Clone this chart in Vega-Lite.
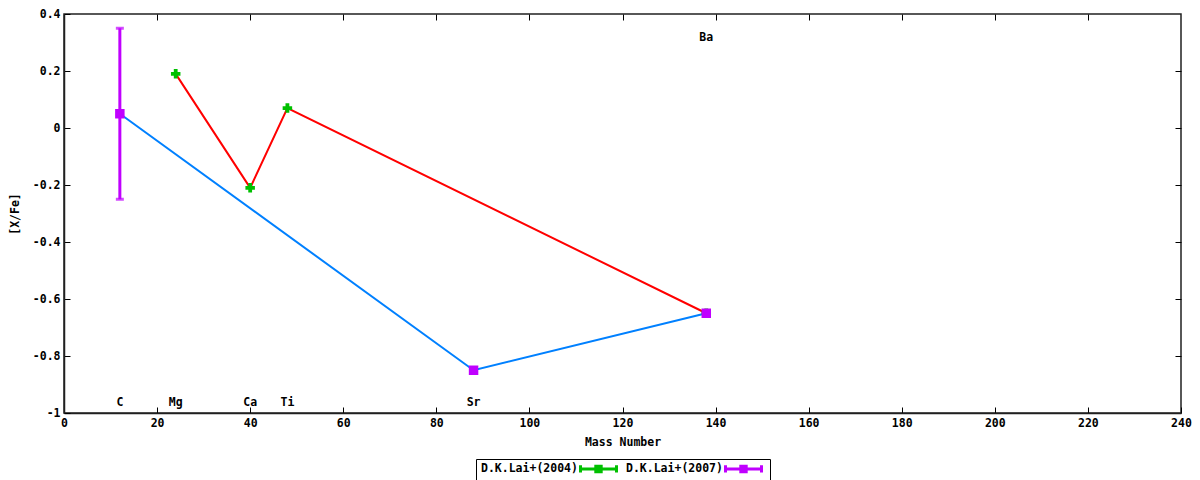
{
  "$schema": "https://vega.github.io/schema/vega-lite/v6.json",
  "description": "[X/Fe] vs Mass Number, D.K.Lai+ 2004 and 2007",
  "autosize": {"type": "none"},
  "padding": {"left": 64, "top": 14, "right": 19, "bottom": 67},
  "width": 1117,
  "height": 399,
  "background": "white",
  "config": {
    "view": {"stroke": "#202020", "strokeWidth": 1.5},
    "font": "DejaVu Sans Mono",
    "axis": {
      "labelFont": "DejaVu Sans Mono",
      "labelFontWeight": "bold",
      "labelFontSize": 11.5,
      "labelColor": "black",
      "labelFlush": false,
      "titleFont": "DejaVu Sans Mono",
      "titleFontWeight": "bold",
      "titleFontSize": 11.5,
      "titleColor": "black",
      "domainColor": "#202020",
      "domainWidth": 1.5,
      "tickColor": "black",
      "tickSize": -6,
      "labelPadding": 10,
      "grid": false
    }
  },
  "datasets": {
    "abund": [
      {"series": "D.K.Lai+(2004)", "el": "Mg", "mass": 24, "val": 0.19},
      {"series": "D.K.Lai+(2004)", "el": "Ca", "mass": 40, "val": -0.21},
      {"series": "D.K.Lai+(2004)", "el": "Ti", "mass": 48, "val": 0.07},
      {"series": "D.K.Lai+(2004)", "el": "Ba", "mass": 138, "val": -0.65},
      {"series": "D.K.Lai+(2007)", "el": "C", "mass": 12, "val": 0.05, "lo": -0.25, "hi": 0.35},
      {"series": "D.K.Lai+(2007)", "el": "Sr", "mass": 88, "val": -0.85},
      {"series": "D.K.Lai+(2007)", "el": "Ba", "mass": 138, "val": -0.65}
    ],
    "labels": [
      {"el": "C", "mass": 12, "pos": -0.965},
      {"el": "Mg", "mass": 24, "pos": -0.965},
      {"el": "Ca", "mass": 40, "pos": -0.965},
      {"el": "Ti", "mass": 48, "pos": -0.965},
      {"el": "Sr", "mass": 88, "pos": -0.965},
      {"el": "Ba", "mass": 138, "pos": 0.316}
    ]
  },
  "resolve": {"axis": {"x": "independent", "y": "independent"}},
  "layer": [
    {
      "data": {"name": "abund"},
      "transform": [{"filter": "datum.series === 'D.K.Lai+(2004)'"}],
      "mark": {"type": "line", "color": "#ff0000", "strokeWidth": 2},
      "encoding": {
        "x": {
          "field": "mass",
          "type": "quantitative",
          "scale": {"domain": [0, 240], "nice": false},
          "axis": {"title": "Mass Number", "values": [0, 20, 40, 60, 80, 100, 120, 140, 160, 180, 200, 220, 240], "titlePadding": 8}
        },
        "y": {
          "field": "val",
          "type": "quantitative",
          "scale": {"domain": [-1, 0.4], "nice": false, "zero": false},
          "axis": {
            "title": "[X/Fe]",
            "values": [-1, -0.8, -0.6, -0.4, -0.2, 0, 0.2, 0.4],
            "labelExpr": "toString(round(datum.value * 10) / 10)",
            "titlePadding": 12
          }
        }
      }
    },
    {
      "data": {"name": "abund"},
      "transform": [{"filter": "datum.series === 'D.K.Lai+(2007)'"}],
      "mark": {"type": "line", "color": "#0080ff", "strokeWidth": 2},
      "encoding": {
        "x": {"field": "mass", "type": "quantitative", "axis": {"orient": "top", "labels": false, "title": null, "domain": false, "values": [20, 40, 60, 80, 100, 120, 140, 160, 180, 200, 220]}},
        "y": {"field": "val", "type": "quantitative", "axis": {"orient": "right", "labels": false, "title": null, "domain": false, "values": [-0.8, -0.6, -0.4, -0.2, 0, 0.2]}}
      }
    },
    {
      "data": {"name": "abund"},
      "transform": [{"filter": "isValid(datum.lo)"}],
      "mark": {"type": "rule", "color": "#c000ff", "strokeWidth": 3},
      "encoding": {
        "x": {"field": "mass", "type": "quantitative", "axis": null},
        "y": {"field": "lo", "type": "quantitative", "axis": null},
        "y2": {"field": "hi"}
      }
    },
    {
      "data": {"name": "abund"},
      "transform": [{"filter": "isValid(datum.lo)"}],
      "mark": {"type": "tick", "orient": "horizontal", "color": "#c000ff", "size": 8, "thickness": 3},
      "encoding": {
        "x": {"field": "mass", "type": "quantitative", "axis": null},
        "y": {"field": "lo", "type": "quantitative", "axis": null}
      }
    },
    {
      "data": {"name": "abund"},
      "transform": [{"filter": "isValid(datum.hi)"}],
      "mark": {"type": "tick", "orient": "horizontal", "color": "#c000ff", "size": 8, "thickness": 3},
      "encoding": {
        "x": {"field": "mass", "type": "quantitative", "axis": null},
        "y": {"field": "hi", "type": "quantitative", "axis": null}
      }
    },
    {
      "data": {"name": "abund"},
      "transform": [{"filter": "false"}],
      "mark": {"type": "point", "filled": false, "opacity": 1, "strokeWidth": 3},
      "encoding": {
        "x": {"field": "mass", "type": "quantitative", "axis": null},
        "y": {"field": "val", "type": "quantitative", "axis": null},
        "color": {
          "field": "series",
          "type": "nominal",
          "scale": {"domain": ["D.K.Lai+(2004)", "D.K.Lai+(2007)"], "range": ["#00c000", "#c000ff"]},
          "legend": {
            "title": null,
            "orient": "none",
            "direction": "horizontal",
            "legendX": 412,
            "legendY": 445,
            "strokeColor": "black",
            "padding": 2,
            "labelFont": "DejaVu Sans Mono",
            "labelFontWeight": "bold",
            "labelFontSize": 11.5,
            "labelColor": "black",
            "symbolType": "M-3,0H3M-3,-0.6V0.6M3,-0.6V0.6M-0.45,-0.45H0.45V0.45H-0.45Z",
            "symbolSize": 144,
            "symbolOffset": 113,
            "labelOffset": -125,
            "columnPadding": -7,
            "symbolStrokeWidth": 3,
            "symbolOpacity": 1
          }
        }
      }
    },
    {
      "data": {"name": "abund"},
      "transform": [{"filter": "datum.series === 'D.K.Lai+(2004)'"}],
      "mark": {"type": "point", "shape": "cross", "filled": true, "opacity": 1, "size": 90},
      "encoding": {
        "x": {"field": "mass", "type": "quantitative", "axis": null},
        "y": {"field": "val", "type": "quantitative", "axis": null},
        "color": {"field": "series", "type": "nominal"}
      }
    },
    {
      "data": {"name": "abund"},
      "transform": [{"filter": "datum.series === 'D.K.Lai+(2007)'"}],
      "mark": {"type": "point", "shape": "square", "filled": true, "opacity": 1, "size": 90},
      "encoding": {
        "x": {"field": "mass", "type": "quantitative", "axis": null},
        "y": {"field": "val", "type": "quantitative", "axis": null},
        "color": {"field": "series", "type": "nominal"}
      }
    },
    {
      "data": {"name": "labels"},
      "mark": {"type": "text", "font": "DejaVu Sans Mono", "fontWeight": "bold", "fontSize": 11.5, "color": "black", "baseline": "middle", "align": "center"},
      "encoding": {
        "x": {"field": "mass", "type": "quantitative", "axis": null},
        "y": {"field": "pos", "type": "quantitative", "axis": null},
        "text": {"field": "el"}
      }
    }
  ]
}
